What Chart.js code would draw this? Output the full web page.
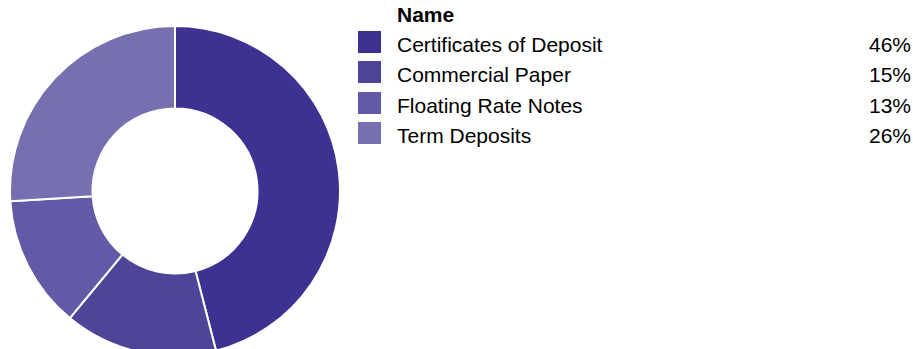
<!DOCTYPE html>
<html>
<head>
<meta charset="utf-8">
<script src="https://cdn.jsdelivr.net/npm/chart.js@4"></script>
<style>
  body { margin: 0; width: 913px; height: 349px; overflow: hidden; background: #fff; font-family: "Liberation Sans", Arial, sans-serif; position: relative; }
  #pie-wrap { position: absolute; left: 9px; top: 25px; width: 332px; height: 332px; }
  #legend { position: absolute; left: 358px; top: 0; width: 553px; color: #000; font-size: 21px; }
  #legend .head { font-weight: bold; margin-left: 39px; height: 28px; padding-top: 3px; line-height: 24px; }
  #legend .row { position: relative; height: 30.3px; line-height: 24px; }
  #legend .box { position: absolute; left: 0; top: 0; width: 23px; height: 22px; }
  #legend .name { position: absolute; left: 39px; top: 2px; }
  #legend .pct { position: absolute; right: 0; top: 2px; }
</style>
</head>
<body>
<div id="pie-wrap"><canvas id="holdings-chart"></canvas></div>
<div id="legend"></div>
<script>
// Participação por tipo de instrumento (%)
const categorias = ['Certificates of Deposit', 'Commercial Paper', 'Floating Rate Notes', 'Term Deposits'];
const percentuais = [46, 15, 13, 26];
const cores = ['#3d3191', '#4e4599', '#6259a7', '#7670b0'];

const holdingsChart = new Chart(document.getElementById('holdings-chart'), {
    type: 'doughnut',
    data: {
        labels: categorias,
        datasets: [{
            data: percentuais,
            backgroundColor: cores,
            borderColor: '#ffffff',
            borderWidth: 2
        }]
    },
    options: {
        responsive: true,
        maintainAspectRatio: false,
        animation: false,
        cutout: '50%',
        plugins: {
            legend: { display: false },
            tooltip: { enabled: false }
        }
    }
});

// Legenda montada a partir dos mesmos arrays
const legend = document.getElementById('legend');
legend.innerHTML = '<div class="head">Name</div>';
categorias.forEach((nome, i) => {
    const row = document.createElement('div');
    row.className = 'row';
    row.innerHTML = '<span class="box" style="background:' + cores[i] + '"></span>' +
        '<span class="name">' + nome + '</span>' +
        '<span class="pct">' + percentuais[i] + '%</span>';
    legend.appendChild(row);
});
</script>
</body>
</html>
